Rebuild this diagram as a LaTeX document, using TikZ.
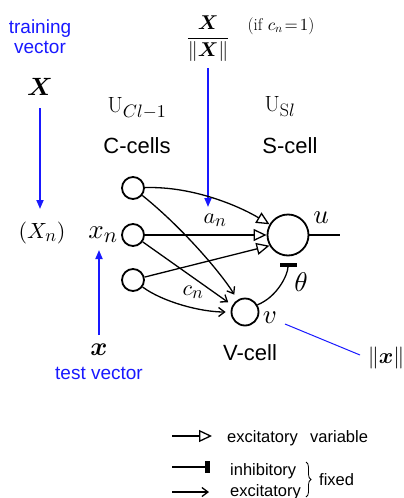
\documentclass[tikz,border=0pt]{standalone}
\usepackage{amsmath}
\usepackage{bm}
\usepackage{fontspec}
\DeclareFontShape{OML}{cmm}{m}{it}{<->cmmi10}{}
\DeclareFontShape{OML}{cmm}{b}{it}{<->cmmib10}{}
\DeclareFontShape{OMS}{cmsy}{m}{n}{<->cmsy10}{}
\DeclareFontShape{OMS}{cmsy}{b}{n}{<->cmbsy10}{}
\DeclareFontShape{OMX}{cmex}{m}{n}{<->cmex10}{}
\DeclareFontShape{OT1}{cmr}{m}{n}{<->cmr10}{}
\DeclareFontShape{OT1}{cmr}{bx}{n}{<->cmbx10}{}
\DeclareMathSizes{22}{22}{18}{14}
\DeclareMathSizes{27}{27}{22}{17}
\newfontfamily\lsans{Liberation Sans}
\usetikzlibrary{arrows.meta,decorations.pathreplacing}
\definecolor{myblue}{rgb}{0.1,0.1,1}
\begin{document}
\begin{tikzpicture}[x=1pt,y=-1pt,
  mth/.style={font=\fontsize{22}{26}\selectfont, inner sep=0},
  bigm/.style={font=\fontsize{27}{30}\selectfont, inner sep=0},
  lbl/.style={font=\lsans\fontsize{22}{24}\selectfont, inner sep=0},
  btxt/.style={font=\lsans\fontsize{19}{20}\selectfont, text=myblue, inner sep=0, align=center},
  leg/.style={font=\lsans\fontsize{16.5}{18}\selectfont, inner sep=0, anchor=base west},
  cell/.style={circle, draw, line width=1.8pt, inner sep=0, minimum size=22pt},
  conn/.style={line width=1.3pt},
  exc/.style={conn, -{Triangle[open, length=13pt, width=12pt, line width=1.3pt]}},
  fixd/.style={conn, -{Straight Barb[length=6pt, width=9pt, line width=1.3pt]}},
  inh/.style={conn, -{Rectangle[length=4.5pt, width=17pt]}},
  barr/.style={draw=myblue, line width=1.8pt, -{Triangle[length=9pt, width=7pt]}},
  bline/.style={draw=myblue, line width=1pt},
]
\useasboundingbox (0,0) rectangle (404,498);

% left column
\node[btxt] (train) at (40,37) {training\\vector};
\node[mth, font=\fontsize{25}{28}\selectfont] (X) at (40,87) {$\bm{X}$};
\node[mth] (Xn) at (42,233) {$(X_n)$};
\coordinate (Xa) at (40,108);
\coordinate (Xb) at (40,209);
\draw[barr] (Xa) -- (Xb);

% headers
\node[mth] (UC) at (137,108) {$\mathrm{U}_{Cl-1}$};
\node[lbl] (Clab) at (137,146) {C-cells};
\node[mth] (US) at (280,107) {$\mathrm{U}_{\mathrm{S}l}$};
\node[lbl] (Slab) at (290,146) {S-cell};
\node[font=\fontsize{20}{24}\selectfont, inner sep=0] (frac) at (208,39) {$\dfrac{\bm{X}}{\|\bm{X}\|}$};
\node[font=\fontsize{17}{20}\selectfont, inner sep=0] (cond) at (281,26) {(if $c_n\!=\!1$)};
\coordinate (fa) at (208,68);
\coordinate (fb) at (208,207);
\draw[barr] (fa) -- (fb);

% cells
\node[cell] (C1) at (133,188) {};
\node[cell] (C2) at (133,235) {};
\node[cell] (C3) at (133,280) {};
\node[cell, minimum size=41pt] (S) at (288,235) {};
\node[cell, minimum size=27pt] (V) at (245,312) {};

% labels
\node[bigm] (xn) at (103,235) {$x_n$};
\node[mth] (an) at (215,220) {$a_n$};
\node[mth] (cn) at (193,292) {$c_n$};
\node[bigm] (u) at (321,218) {$u$};
\node[bigm] (th) at (301,282) {$\theta$};
\node[bigm] (vl) at (270,318) {$v$};
\node[lbl] (Vlab) at (250,353) {V-cell};
\node[mth] (nx) at (386,358) {$\|\bm{x}\|$};
\node[mth, font=\fontsize{26}{28}\selectfont] (xb) at (99,350) {$\bm{x}$};
\node[btxt] (tv) at (99,373) {test vector};
\coordinate (xa) at (99,335);
\coordinate (xbb) at (99,250);
\draw[barr] (xa) -- (xbb);

% connections to S
\draw[exc] (C1) .. controls +(60,-2) and +(-30,-18) .. (S.150);
\draw[exc] (C2) -- (S);
\draw[exc] (C3) -- (S.210);
% connections to V
\draw[fixd, shorten >=6pt] (C1) .. controls +(50,40) and +(-15,-25) .. (V.122);
\draw[fixd, shorten >=5pt] (C2) -- (V.152);
\draw[fixd, shorten >=5pt] (C3) .. controls +(30,22) and +(-30,0) .. (V.180);
% inhibitory
\draw[inh, shorten >=6.5pt] (V.30) .. controls +(20,-8) and +(0,18) .. (S.south);
% output
\coordinate (out) at (340,235);
\draw[conn] (S) -- (out);
% norm line
\coordinate (na) at (285,324);
\coordinate (nb) at (360,355);
\draw[bline] (na) -- (nb);

% legend
\coordinate (l1a) at (172,436);
\coordinate (l1b) at (212,436);
\draw[exc] (l1a) -- (l1b);
\node[leg] (le1) at (227,442) {excitatory};
\node[leg] (le2) at (310,442) {variable};
\coordinate (l2a) at (172,467);
\coordinate (l2b) at (210,467);
\draw[conn, -{Rectangle[length=5pt, width=12pt]}] (l2a) -- (l2b);
\node[leg] (le3) at (230,475) {inhibitory};
\coordinate (l3a) at (172,492);
\coordinate (l3b) at (209,492);
\draw[fixd] (l3a) -- (l3b);
\node[leg] (le4) at (230,496) {excitatory};
\coordinate (ba) at (306,462);
\coordinate (bb) at (306,497);
\draw[decorate, decoration={brace, amplitude=5pt}, line width=0.8pt] (ba) -- (bb);
\node[leg] (le5) at (319,485) {fixed};
\end{tikzpicture}
\end{document}
